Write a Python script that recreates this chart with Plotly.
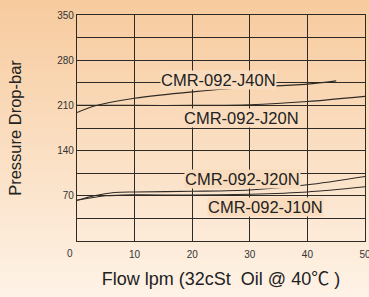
import plotly.graph_objects as go

flow_j40 = [0, 3, 10, 20, 30, 40, 45]
dp_j40 = [199, 209, 221, 231, 238, 243, 248]
flow_j20h = [0, 10, 20, 30, 40, 50]
dp_j20h = [210, 210, 210, 211, 216, 224]
flow_j20l = [0, 3, 6.5, 10, 20, 30, 40, 50]
dp_j20l = [63, 70, 75, 76, 77, 79, 87, 100]
flow_j10 = [0, 5, 10, 20, 30, 40, 50]
dp_j10 = [63, 70, 71.5, 71, 72.5, 76, 84]

labels = ["CMR-092-J40N", "CMR-092-J20N", "CMR-092-J20N", "CMR-092-J10N"]
label_x = [24.5, 28.5, 28.8, 32.7]
label_y = [250, 191, 96, 53]

y_tickvals = list(range(0, 351, 35))
y_ticktext = ["" if v % 70 else str(v) for v in y_tickvals]
y_ticktext[0] = ""
x_tickvals = [10, 20, 30, 40, 50]

W, H = 369, 297
ml, mr, mt, mb = 77, 4, 15, 56
pw, ph = W - ml - mr, H - mt - mb
FONT = "Liberation Sans, Arial, sans-serif"

fig = go.Figure()
line_style = dict(color="#2e2a26", width=1.1, shape="spline", smoothing=0.8)
for xs, ys in [(flow_j40, dp_j40), (flow_j20h, dp_j20h), (flow_j20l, dp_j20l), (flow_j10, dp_j10)]:
    fig.add_trace(go.Scatter(x=xs, y=ys, mode="lines", line=line_style,
                             showlegend=False, hoverinfo="skip"))

# gradient background
top = (247, 203, 158)
bot = (254, 242, 230)
n = 48
shapes = []
y_lo = -mb / ph
y_hi = 1 + mt / ph
for i in range(n):
    t = i / (n - 1)
    c = tuple(round(top[k] + (bot[k] - top[k]) * t) for k in range(3))
    ya = y_hi - (y_hi - y_lo) * i / n
    yb = y_hi - (y_hi - y_lo) * (i + 1) / n
    shapes.append(dict(type="rect", xref="paper", yref="paper",
                       x0=-ml / pw - 0.01, x1=1 + mr / pw + 0.01,
                       y0=yb - 0.002, y1=ya + 0.002,
                       fillcolor="rgb(%d,%d,%d)" % c, line=dict(width=0), layer="below"))
fig.update_layout(shapes=shapes)

for txt, lx, ly in zip(labels, label_x, label_y):
    fig.add_annotation(x=lx, y=ly, text=txt, showarrow=False,
                       font=dict(family=FONT, size=16.5, color="#222"),
                       bgcolor="rgba(249,220,190,1)", borderpad=0)

fig.add_annotation(x=0, y=0, text="0", showarrow=False, xanchor="center", yanchor="top",
                   xshift=-7, yshift=-5,
                   font=dict(family=FONT, size=10, color="#333"))

x_title = "Flow lpm (32cSt  Oil @ 40<span style='font-family:Noto Sans CJK SC'>℃</span> )"

fig.update_layout(
    width=W, height=H,
    margin=dict(l=ml, r=mr, t=mt, b=mb, autoexpand=False),
    paper_bgcolor="#fbe2c8", plot_bgcolor="rgba(0,0,0,0)",
    font=dict(family=FONT, color="#333"),
    xaxis=dict(range=[0, 50], tickvals=x_tickvals, showgrid=True, gridcolor="#2e2a26", gridwidth=1.2,
               showline=True, linecolor="#2e2a26", linewidth=1.3, mirror=True, zeroline=False,
               automargin=False, ticklabeloverflow="allow",
               ticks="", tickfont=dict(size=10, color="#333"), ticklabelstandoff=4,
               title=dict(text=x_title, font=dict(size=18, color="#222"), standoff=13)),
    yaxis=dict(range=[0, 350], tickvals=y_tickvals, ticktext=y_ticktext, showgrid=True,
               gridcolor="#2e2a26", gridwidth=1.2, showline=True, linecolor="#2e2a26", linewidth=1.3,
               mirror=True, zeroline=False, ticks="", tickfont=dict(size=10, color="#333"),
               automargin=False,
               title=dict(text="Pressure Drop-bar", font=dict(size=16.5, color="#222"), standoff=31)),
)

fig.write_html("out.html", config={"displayModeBar": False},
               post_script="document.body.style.margin='0';document.body.style.overflow='hidden';")
